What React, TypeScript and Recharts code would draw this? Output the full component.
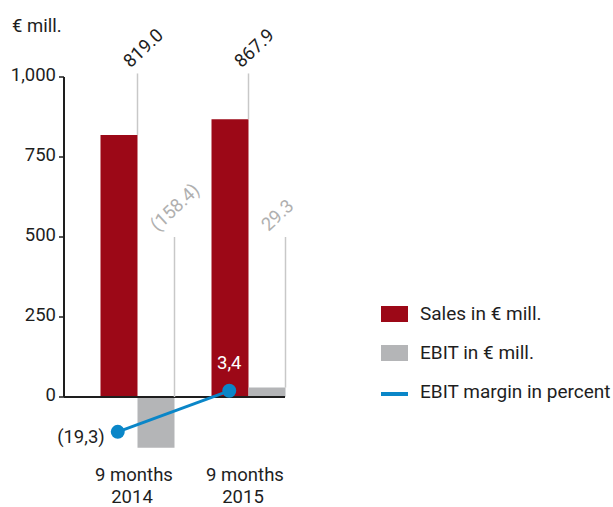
import React from 'react';
import {
  ComposedChart,
  Bar,
  Line,
  XAxis,
  YAxis,
  ReferenceLine,
  LabelList,
  Legend,
} from 'recharts';

const periods = ['9 months 2014', '9 months 2015'];
const sales = [819.0, 867.9];
const ebit = [-158.4, 29.3];
const ebitMargin = [-19.3, 3.4];
const salesLabels = ['819.0', '867.9'];
const ebitLabels = ['(158.4)', '29.3'];
const marginLabels = ['(19,3)', '3,4'];
const yTicks = [0, 250, 500, 750, 1000];
const legendOrder = ['Sales in € mill.', 'EBIT in € mill.', 'EBIT margin in percent'];

const data = periods.map((period, i) => ({
  period,
  sales: sales[i],
  ebit: ebit[i],
  margin: ebitMargin[i],
}));

const RED = '#9c0817';
const GREY = '#b4b5b7';
const BLUE = '#0a86c8';
const INK = '#1e1e1e';
const FONT = 'Roboto, sans-serif';

const W = 613;
const H = 507;
const MARGIN = { top: 77, right: 328, bottom: 6, left: 4 };
const X_AXIS_H = 40;
const Y_DOMAIN: [number, number] = [-200, 1000];
const PCT_DOMAIN: [number, number] = [-35.4, 176.8];

// y axis line only runs from the top tick down to zero
const plotH = H - MARGIN.top - MARGIN.bottom - X_AXIS_H;
const axisDash = (plotH * Y_DOMAIN[1]) / (Y_DOMAIN[1] - Y_DOMAIN[0]);

// leader line from the bar end up to a fixed level, rotated value on top
const leaderLabel =
  (texts: string[], values: number[], level: number, color: string, dx: number) =>
  (props: any) => {
    const vb = props.viewBox ?? props;
    const { index } = props;
    const v = values[index];
    const x = Number(vb.x);
    const y = Number(vb.y);
    const w = Number(vb.width);
    const h = Number(vb.height);
    const top = Math.min(y, y + h);
    const bottom = Math.max(y, y + h);
    const k = (bottom - top) / Math.abs(v);
    const zeroY = v >= 0 ? bottom : top;
    const barEnd = v >= 0 ? top : zeroY;
    const lx = x + w;
    const ly = zeroY - level * k;
    const tx = lx + dx;
    const ty = ly - 5;
    return (
      <g>
        <line x1={lx} x2={lx} y1={barEnd} y2={ly} stroke="#c8c8c8" strokeWidth={1.5} />
        <text
          x={tx}
          y={ty}
          transform={`rotate(-43 ${tx} ${ty})`}
          fill={color}
          fontSize={18.5}
          fontFamily={FONT}
          textAnchor="start"
        >
          {texts[index]}
        </text>
      </g>
    );
  };

const marginLabel = (props: any) => {
  const { x, y, index } = props;
  if (index === 0) {
    return (
      <text x={x - 13} y={y + 11} fill={INK} fontSize={18.5} fontFamily={FONT} textAnchor="end">
        {marginLabels[index]}
      </text>
    );
  }
  return (
    <text x={x} y={y - 22} fill="#fff" fontSize={18.5} fontFamily={FONT} textAnchor="middle">
      {marginLabels[index]}
    </text>
  );
};

const PeriodTick = (props: any) => {
  const { x, y, payload } = props;
  const words = String(payload.value).split(' ');
  return (
    <text x={x - 4} y={y} fill={INK} fontSize={18.5} fontFamily={FONT} textAnchor="middle">
      <tspan x={x - 3} dy={12}>
        {words.slice(0, 2).join(' ')}
      </tspan>
      <tspan x={x - 5} dy={22}>
        {words[2]}
      </tspan>
    </text>
  );
};

const LegendBox = (props: any) => {
  const payload = [...(props.payload ?? [])].sort(
    (a: any, b: any) => legendOrder.indexOf(a.value) - legendOrder.indexOf(b.value),
  );
  return (
    <div style={{ fontFamily: FONT, fontSize: 19, color: INK }}>
      {payload.map((p: any) => (
        <div key={p.value} style={{ display: 'flex', alignItems: 'center', height: 39 }}>
          {p.type === 'line' ? (
            <span style={{ width: 27, height: 4, marginTop: 5, background: p.color, display: 'inline-block' }} />
          ) : (
            <span style={{ width: 27, height: 16, background: p.color, display: 'inline-block' }} />
          )}
          <span style={{ marginLeft: 12, lineHeight: '19px' }}>{p.value}</span>
        </div>
      ))}
    </div>
  );
};

export default function App() {
  return (
    <div style={{ position: 'absolute', left: 0, top: 0, width: W, height: H, background: '#fff' }}>
      <div
        style={{
          position: 'absolute',
          left: 12,
          top: 15,
          fontFamily: FONT,
          fontSize: 18.5,
          color: INK,
          lineHeight: '22px',
        }}
      >
        € mill.
      </div>
      <ComposedChart width={W} height={H} data={data} margin={MARGIN} barGap={0}>
        <XAxis
          xAxisId="cat"
          dataKey="period"
          axisLine={false}
          tickLine={false}
          height={X_AXIS_H}
          padding={{ left: 17.5, right: -18.5 }}
          tick={<PeriodTick />}
          interval={0}
        />
        <XAxis xAxisId="pt" dataKey="period" hide padding={{ left: -2, right: 0 }} />
        <YAxis
          yAxisId="left"
          width={60}
          domain={Y_DOMAIN}
          ticks={yTicks}
          tickFormatter={(v: number) => v.toLocaleString('en-US')}
          axisLine={{ stroke: INK, strokeWidth: 2, strokeDasharray: `${axisDash} 2000` }}
          tickLine={{ stroke: INK, strokeWidth: 1.5 }}
          tickSize={5}
          tickMargin={3}
          tick={{ fill: INK, fontSize: 18.5, fontFamily: FONT, dy: -3 }}
        />
        <YAxis yAxisId="pct" hide domain={PCT_DOMAIN} allowDataOverflow />
        <Legend
          layout="vertical"
          align="center"
          verticalAlign="middle"
          wrapperStyle={{ left: 381, top: 294, width: 232 }}
          content={<LegendBox />}
        />
        <Bar
          xAxisId="cat"
          yAxisId="left"
          dataKey="sales"
          name="Sales in € mill."
          fill={RED}
          barSize={37}
          isAnimationActive={false}
        >
          <LabelList dataKey="sales" content={leaderLabel(salesLabels, sales, 1011, INK, -7)} />
        </Bar>
        <Bar
          xAxisId="cat"
          yAxisId="left"
          dataKey="ebit"
          name="EBIT in € mill."
          fill={GREY}
          barSize={37}
          isAnimationActive={false}
        >
          <LabelList dataKey="ebit" content={leaderLabel(ebitLabels, ebit, 500, '#b0b0b0', -17)} />
        </Bar>
        <ReferenceLine xAxisId="cat" yAxisId="left" y={0} stroke={INK} strokeWidth={2} />
        <Line
          xAxisId="pt"
          yAxisId="pct"
          dataKey="margin"
          name="EBIT margin in percent"
          stroke={BLUE}
          strokeWidth={3}
          dot={{ r: 7, fill: BLUE, stroke: 'none' }}
          legendType="line"
          isAnimationActive={false}
        >
          <LabelList dataKey="margin" content={marginLabel} />
        </Line>
      </ComposedChart>
    </div>
  );
}
